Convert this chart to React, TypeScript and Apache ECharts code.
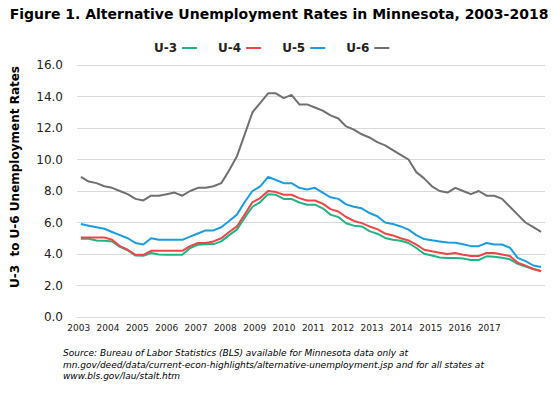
import React, { useEffect, useRef } from "react";
import * as echarts from "echarts";

const years = ["2003","2004","2005","2006","2007","2008","2009","2010","2011","2012","2013","2014","2015","2016","2017"];
const quarters = years.flatMap((y) => [y + "Q1", y + "Q2", y + "Q3", y + "Q4"]);

const u3 = [4.97,4.97,4.86,4.84,4.8,4.45,4.23,3.9,3.89,4.06, 3.97,3.95,3.95,3.95,4.38,4.59,4.62,4.63,4.8,5.2, 5.55,6.3,7.0,7.3,7.8,7.76,7.5,7.5,7.27,7.13, 7.13,6.9,6.5,6.35,5.95,5.8,5.75,5.45,5.29,5.02, 4.9,4.84,4.7,4.38,4.02,3.9,3.78,3.74,3.74,3.72, 3.62,3.62,3.85,3.82,3.76,3.66,3.38,3.21,3.05,2.92];
const u4 = [5.05,5.05,5.05,5.05,4.9,4.5,4.27,3.95,3.95,4.2, 4.2,4.2,4.2,4.2,4.5,4.7,4.7,4.8,5.0,5.4, 5.75,6.5,7.3,7.55,8.0,7.93,7.76,7.76,7.55,7.4, 7.4,7.2,6.85,6.7,6.35,6.1,5.96,5.75,5.58,5.3, 5.18,5.0,4.86,4.6,4.27,4.17,4.08,4.0,4.06,3.95, 3.87,3.87,4.06,4.06,3.97,3.87,3.45,3.26,3.05,2.9];
const u5 = [5.9,5.8,5.7,5.6,5.4,5.2,5.0,4.7,4.6,5.0, 4.9,4.9,4.9,4.9,5.1,5.3,5.5,5.5,5.7,6.1, 6.5,7.3,8.0,8.3,8.9,8.7,8.5,8.5,8.2,8.1, 8.2,7.9,7.6,7.5,7.15,7.0,6.9,6.6,6.4,6.0, 5.9,5.75,5.55,5.2,4.95,4.87,4.8,4.73,4.72,4.62, 4.5,4.5,4.7,4.6,4.6,4.4,3.75,3.55,3.27,3.17];
const u6 = [8.9,8.6,8.5,8.3,8.2,8.0,7.8,7.5,7.4,7.7, 7.7,7.8,7.9,7.7,8.0,8.2,8.2,8.3,8.5,9.3, 10.2,11.6,13.0,13.6,14.2,14.2,13.9,14.1,13.5,13.5, 13.3,13.1,12.8,12.6,12.1,11.9,11.6,11.4,11.1,10.9, 10.6,10.3,10.0,9.2,8.8,8.3,8.0,7.9,8.2,8.0, 7.8,8.0,7.7,7.7,7.5,7.0,6.5,6.0,5.7,5.4];

const seriesNames = ["U-3", "U-4", "U-5", "U-6"];
const seriesData = [u3, u4, u5, u6];
const colors = ["#22b383", "#ee4646", "#1a9de0", "#707070"];

const titleText = "Figure 1. Alternative Unemployment Rates in Minnesota, 2003-2018";
const yName = "U-3  to U-6 Unemployment Rates";
const sourceLines = [
  "Source: Bureau of Labor Statistics (BLS) available for Minnesota data only at",
  "mn.gov/deed/data/current-econ-highlights/alternative-unemployment.jsp and for all states at",
  "www.bls.gov/lau/stalt.htm",
];

const FONT = "DejaVu Sans, Verdana, sans-serif";

export default function App() {
  const ref = useRef<HTMLDivElement>(null);
  useEffect(() => {
    document.body.style.margin = "0";
    if (!ref.current) return;
    const chart = echarts.init(ref.current, undefined, { renderer: "svg" });
    chart.setOption({
      animation: false,
      backgroundColor: "#ffffff",
      textStyle: { fontFamily: FONT },
      title: {
        text: titleText,
        left: "center",
        top: 2,
        textStyle: { fontFamily: FONT, fontSize: 14, fontWeight: "bold", color: "#000" },
      },
      legend: {
        data: seriesNames,
        left: 149,
        top: 37,
        icon: "rect",
        itemWidth: 15,
        itemHeight: 2,
        itemGap: 21,
        align: "right",
        textStyle: { fontFamily: FONT, fontSize: 12, fontWeight: "bold", color: "#222" },
      },
      grid: [
        { left: 77, right: 13, top: 65, height: 252, containLabel: false },
        { left: 64, width: 440, top: 65, height: 252, containLabel: false },
      ],
      xAxis: [
        {
          type: "category",
          gridIndex: 0,
          data: quarters,
          boundaryGap: true,
          axisLine: { show: false },
          axisTick: { show: false },
          axisLabel: { show: false },
        },
        {
          type: "category",
          gridIndex: 1,
          data: years,
          boundaryGap: true,
          axisLine: { show: false },
          axisTick: { show: false },
          axisLabel: { fontFamily: FONT, fontSize: 9, color: "#222", margin: 6, interval: 0 },
        },
      ],
      yAxis: [
        {
          type: "value",
          gridIndex: 0,
          min: 0,
          max: 16,
          interval: 2,
          axisLine: { show: false },
          axisTick: { show: false },
          splitLine: { lineStyle: { color: "#d9d9d9", width: 1 } },
          axisLabel: {
            fontFamily: FONT,
            fontSize: 12,
            color: "#222",
            margin: 14,
            formatter: (v: number) => v.toFixed(1),
          },
        },
        { type: "value", gridIndex: 1, min: 0, max: 16, show: false },
      ],
      graphic: [
        {
          type: "text",
          x: 15,
          y: 177,
          rotation: Math.PI / 2,
          style: {
            text: yName,
            fontFamily: FONT,
            fontSize: 12,
            fontWeight: "bold",
            fill: "#000",
            align: "center",
            verticalAlign: "middle",
          },
        },
        {
          type: "text",
          left: 63,
          top: 347,
          style: {
            text: sourceLines.join("\n"),
            fontFamily: FONT,
            fontSize: 9,
            fontStyle: "italic",
            lineHeight: 11.7,
            fill: "#000",
          },
        },
      ],
      series: [
        ...seriesData.map((d, i) => ({
          name: seriesNames[i],
          type: "line",
          xAxisIndex: 0,
          yAxisIndex: 0,
          data: d,
          showSymbol: false,
          symbol: "none",
          lineStyle: { color: colors[i], width: 2 },
          itemStyle: { color: colors[i] },
        })),
        { name: "_labels", type: "line", xAxisIndex: 1, yAxisIndex: 1, data: [], silent: true },
      ],
    });
    return () => chart.dispose();
  }, []);
  return <div ref={ref} style={{ width: 558, height: 396 }} />;
}
